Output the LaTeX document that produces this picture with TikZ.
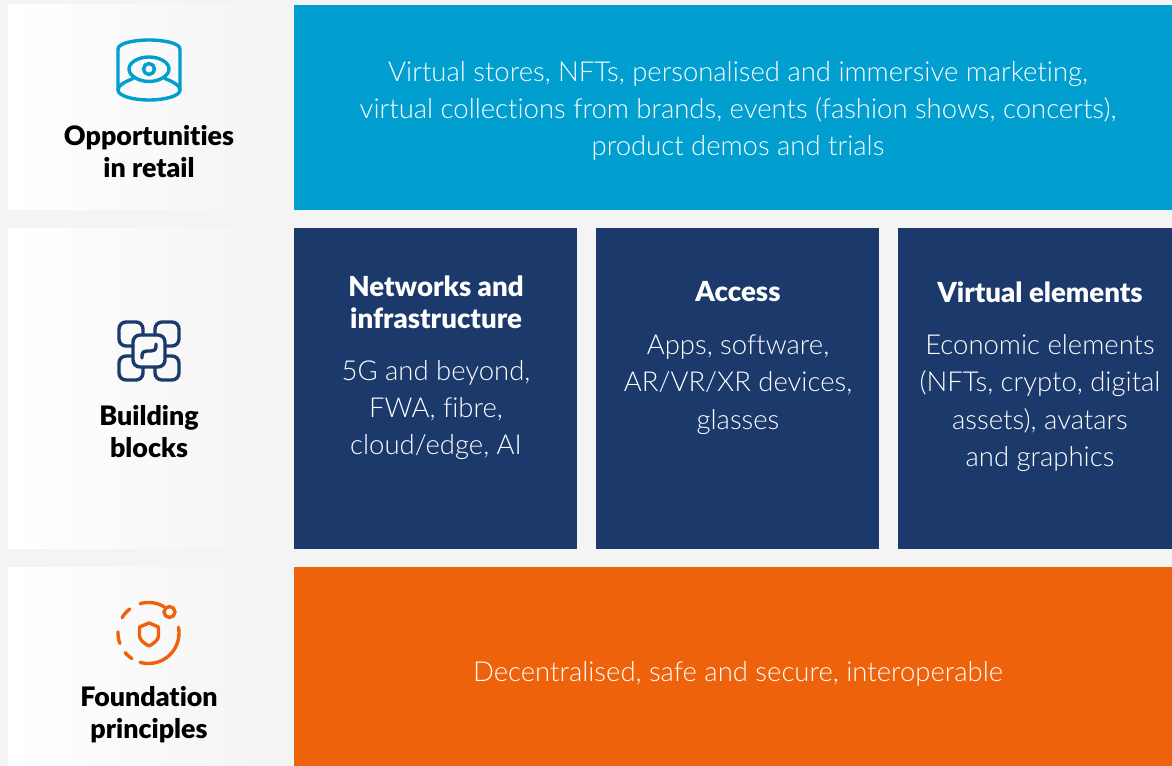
\documentclass[tikz,border=0pt]{standalone}
\usepackage{fontspec}
\setmainfont{Lato}
\newfontfamily\lightfont[Ligatures=NoCommon]{Lato Light}
\newfontfamily\headfont[Ligatures=NoCommon]{Lato Black}
\definecolor{pagebg}{HTML}{F4F4F4}
\definecolor{cyanbox}{HTML}{009FD0}
\definecolor{navybox}{HTML}{1B3A6B}
\definecolor{orangebox}{HTML}{EE620C}
\tikzset{
  sidepanel/.style={rectangle,anchor=north west,inner sep=0,outer sep=0,minimum width=258*.75pt,left color=white,right color=pagebg},
  box/.style={rectangle,anchor=north west,inner sep=0,outer sep=0},
  bodytext/.style={align=center,text=white,inner sep=0,font=\lightfont\fontsize{20.6pt}{28pt}\selectfont},
  toptitle/.style={align=center,text=white,inner sep=0,font=\headfont\fontsize{20.7pt}{24pt}\selectfont},
  sidetitle/.style={align=center,text=black,inner sep=0,font=\headfont\fontsize{20.1pt}{24pt}\selectfont},
  icon/.style={line width=3.4*.75pt,line cap=round,line join=round}
}
\begin{document}
\begin{tikzpicture}[x=.75pt,y=-.75pt]
\useasboundingbox (0,0) rectangle (1172,766);
\fill[pagebg] (0,0) rectangle (1172,766);
% side panels
\node[sidepanel,minimum height=205*.75pt] (p1) at (8,5) {};
\node[sidepanel,minimum height=320.5*.75pt] (p2) at (8,228.5) {};
\node[sidepanel,minimum height=198.5*.75pt] (p3) at (8,567.5) {};
% boxes
\node[box,fill=cyanbox,minimum width=878*.75pt,minimum height=205*.75pt] (top) at (294,5) {};
\node[box,fill=navybox,minimum width=283*.75pt,minimum height=321*.75pt] (b1) at (294,228) {};
\node[box,fill=navybox,minimum width=283*.75pt,minimum height=321*.75pt] (b2) at (596,228) {};
\node[box,fill=navybox,minimum width=274*.75pt,minimum height=321*.75pt] (b3) at (898,228) {};
\node[box,fill=orangebox,minimum width=878*.75pt,minimum height=199*.75pt] (bot) at (294,567) {};
% texts
\node[bodytext] (t1) at (738,111) {Virtual stores, NFTs, personalised and immersive marketing,\\virtual collections from brands, events (fashion shows, concerts),\\product demos and trials};
\node[toptitle] (h1) at (436,302) {Networks and\\infrastructure};
\node[bodytext] (t2) at (436,410) {5G and beyond,\\FWA, fibre,\\cloud/edge, AI};
\node[toptitle] (h2) at (738,292) {Access};
\node[bodytext] (t3) at (738,384.5) {Apps, software,\\AR/VR/XR devices,\\glasses};
\node[toptitle] (h3) at (1040,292) {Virtual elements};
\node[bodytext] (t4) at (1040,403) {Economic elements\\(NFTs, crypto, digital\\assets), avatars\\and graphics};
\node[bodytext] (t5) at (738,674) {Decentralised, safe and secure, interoperable};
\node[sidetitle] (s1) at (149,152) {Opportunities\\in retail};
\node[sidetitle] (s2) at (149,432) {Building\\blocks};
\node[sidetitle] (s3) at (149,715) {Foundation\\principles};
% eye icon
\begin{scope}[icon,draw=cyanbox]
\draw (118,90) -- (118,49) .. controls (118,43.5) and (133,40) .. (149,40) .. controls (165,40) and (180,43.5) .. (180,49) -- (180,90);
\draw (118,90) .. controls (118,96) and (133,100) .. (149,100) .. controls (165,100) and (180,96) .. (180,90);
\draw (118,90) .. controls (118,85) and (125,82) .. (133,78.5);
\draw (180,90) .. controls (180,85) and (173,82) .. (165,78.5);
\draw (129,69) .. controls (129,62) and (139,57) .. (149,57) .. controls (159,57) and (169,62) .. (169,69) .. controls (169,76) and (159,81.5) .. (149,81.5) .. controls (139,81.5) and (129,76) .. (129,69) -- cycle;
\draw (149,69) circle[radius=5.5];
\end{scope}
% blocks icon
\begin{scope}[icon,draw=navybox]
\draw[rounded corners=5.25pt] (133,335) rectangle (165,367);
\foreach \sx/\sy in {1/1,-1/1,1/-1,-1/-1}{
  \begin{scope}[shift={(149,351)},xscale=\sx,yscale=\sy]
  \draw[rounded corners=5.25pt] (-6,-16) -- (-6,-29) -- (-30,-29) -- (-30,-5) -- (-16,-5);
  \end{scope}
}
\draw (142,358) -- (142,356) .. controls (142,352) and (144,351) .. (147,351) -- (151,351) .. controls (154,351) and (156,350) .. (156,346) -- (156,344);
\end{scope}
% shield icon
\begin{scope}[icon,draw=orangebox]
\foreach \a/\b in {59/106,128/150,178/200,220/237,254/371}{
  \draw plot[domain=\a:\b,samples=24] ({148.5+30.5*cos(\x)},{633-30.5*sin(\x)});
}
\draw (169.5,612) circle[radius=5.5];
\draw (149,623) -- (139.5,627) -- (139.5,636) .. controls (139.5,640) and (145,644) .. (149,646) .. controls (153,644) and (158.5,640) .. (158.5,636) -- (158.5,627) -- cycle;
\end{scope}
\end{tikzpicture}
\end{document}
